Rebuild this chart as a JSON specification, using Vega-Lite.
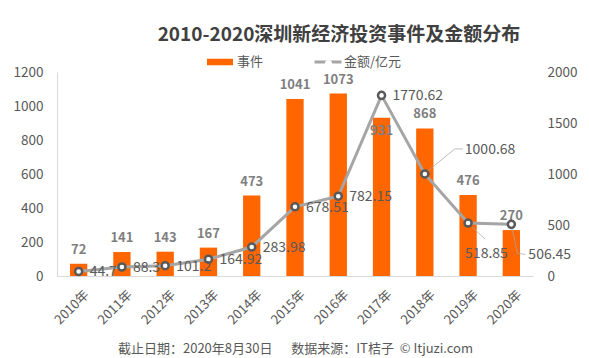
{
  "$schema": "https://vega.github.io/schema/vega-lite/v6.json",
  "width": 476,
  "height": 204,
  "autosize": "none",
  "padding": {"left": 57, "top": 72, "right": 56, "bottom": 82},
  "background": "white",
  "title": {
    "text": "2010-2020深圳新经济投资事件及金额分布",
    "anchor": "middle",
    "frame": "group",
    "dx": 44,
    "fontSize": 19,
    "fontWeight": "bold",
    "color": "#404040",
    "font": "Noto Sans CJK SC",
    "offset": 2
  },
  "data": {
    "values": [
      {"year": "2010年", "events": 72, "amount": 44.7},
      {"year": "2011年", "events": 141, "amount": 88.3},
      {"year": "2012年", "events": 143, "amount": 101.2},
      {"year": "2013年", "events": 167, "amount": 164.92},
      {"year": "2014年", "events": 473, "amount": 283.98},
      {"year": "2015年", "events": 1041, "amount": 678.51},
      {"year": "2016年", "events": 1073, "amount": 782.15},
      {"year": "2017年", "events": 931, "amount": 1770.62},
      {"year": "2018年", "events": 868, "amount": 1000.68},
      {"year": "2019年", "events": 476, "amount": 518.85},
      {"year": "2020年", "events": 270, "amount": 506.45}
    ]
  },
  "encoding": {
    "x": {
      "field": "year",
      "type": "nominal",
      "sort": null,
      "scale": {"paddingInner": 0.6, "paddingOuter": 0.3},
      "axis": {
        "title": "截止日期：2020年8月30日\u3000\u00a0\u00a0数据来源：IT桔子\u00a0\u00a0© Itjuzi.com",
        "titleY": 72,
        "titleBaseline": "middle",
        "titleFontSize": 13,
        "titleFontWeight": "normal",
        "titleColor": "#595959",
        "titleFont": "Noto Sans CJK SC",
        "labelAngle": -45,
        "labelPadding": 12,
        "labelOffset": 4,
        "labelFontSize": 13,
        "domainColor": "#D9D9D9",
        "ticks": false
      }
    }
  },
  "layer": [
    {
      "layer": [
        {
          "mark": {"type": "bar"},
          "encoding": {
            "y": {
              "field": "events",
              "type": "quantitative",
              "scale": {"domain": [0, 1200]},
              "axis": {
                "title": null,
                "values": [0, 200, 400, 600, 800, 1000, 1200],
                "format": "d",
                "labelOverlap": false,
                "domain": true,
                "domainColor": "#D9D9D9",
                "labelPadding": 14
              }
            },
            "color": {
              "datum": "事件",
              "scale": {"range": ["#FF6600"]},
              "legend": {
                "orient": "none",
                "legendX": 150,
                "legendY": -23,
                "symbolType": "M-1,-0.25H1V0.25H-1Z",
                "symbolSize": 676,
                "symbolStrokeWidth": 0,
                "labelOffset": 4
              }
            }
          }
        },
        {
          "transform": [{"filter": "datum.year != '2017年'"}],
          "mark": {"type": "text", "baseline": "alphabetic", "dy": -10, "fontSize": 13, "fontWeight": "bold", "color": "#7F7F7F", "font": "Noto Sans CJK SC"},
          "encoding": {
            "y": {
              "field": "events",
              "type": "quantitative",
              "axis": {
                "title": null,
                "values": [0, 200, 400, 600, 800, 1000, 1200],
                "format": "d",
                "labelOverlap": false,
                "domain": true,
                "domainColor": "#D9D9D9",
                "labelPadding": 14
              }
            },
            "text": {"field": "events", "type": "nominal"}
          }
        },
        {
          "transform": [{"filter": "datum.year == '2017年'"}],
          "mark": {"type": "text", "baseline": "alphabetic", "dy": 17, "fontSize": 13, "fontWeight": "bold", "color": "#7F7F7F", "font": "Noto Sans CJK SC"},
          "encoding": {
            "y": {
              "field": "events",
              "type": "quantitative",
              "axis": {
                "title": null,
                "values": [0, 200, 400, 600, 800, 1000, 1200],
                "format": "d",
                "labelOverlap": false,
                "domain": true,
                "domainColor": "#D9D9D9",
                "labelPadding": 14
              }
            },
            "text": {"field": "events", "type": "nominal"}
          }
        }
      ]
    },
    {
      "layer": [
        {
          "mark": {"type": "line", "strokeWidth": 3},
          "encoding": {
            "y": {
              "field": "amount",
              "type": "quantitative",
              "scale": {"domain": [0, 2000]},
              "axis": {
                "title": null,
                "orient": "right",
                "values": [0, 500, 1000, 1500, 2000],
                "format": "d",
                "labelOverlap": false,
                "domain": false,
                "labelPadding": 14
              }
            },
            "stroke": {
              "datum": "金额/亿元",
              "scale": {"range": ["#A5A5A5"]},
              "legend": {
                "orient": "none",
                "legendX": 256,
                "legendY": -25,
                "symbolType": "M-1,0H1",
                "symbolSize": 729,
                "symbolStrokeWidth": 3,
                "labelOffset": 1
              }
            }
          }
        },
        {
          "mark": {"type": "point", "filled": false, "fill": "white", "stroke": "#595959", "strokeWidth": 2.5, "size": 50, "opacity": 1},
          "encoding": {
            "y": {"field": "amount", "type": "quantitative"},
            "shape": {
              "datum": "金额",
              "scale": {"range": ["circle"]},
              "legend": {
                "orient": "none",
                "legendX": 265,
                "legendY": -15,
                "symbolSize": 50,
                "symbolStrokeWidth": 2.5,
                "symbolStrokeColor": "#595959",
                "symbolFillColor": "white",
                "labelExpr": "''"
              }
            }
          }
        },
        {
          "transform": [{"filter": "indexof(['2018年','2019年','2020年'], datum.year) < 0"}],
          "mark": {"type": "text", "align": "left", "baseline": "middle", "dx": 11, "dy": 1, "fontSize": 14, "color": "#595959", "font": "Noto Sans CJK SC"},
          "encoding": {
            "y": {"field": "amount", "type": "quantitative"},
            "text": {"field": "amount", "type": "nominal"}
          }
        },
        {
          "transform": [{"filter": "datum.year == '2018年'"}],
          "mark": {"type": "text", "align": "left", "baseline": "middle", "dx": 40, "dy": -24, "fontSize": 14, "color": "#595959", "font": "Noto Sans CJK SC"},
          "encoding": {
            "y": {"field": "amount", "type": "quantitative"},
            "text": {"field": "amount", "type": "nominal"}
          }
        },
        {
          "transform": [{"filter": "datum.year == '2019年'"}],
          "mark": {"type": "text", "align": "left", "baseline": "middle", "dx": -3, "dy": 31, "fontSize": 14, "color": "#595959", "font": "Noto Sans CJK SC"},
          "encoding": {
            "y": {"field": "amount", "type": "quantitative"},
            "text": {"field": "amount", "type": "nominal"}
          }
        },
        {
          "transform": [{"filter": "datum.year == '2020年'"}],
          "mark": {"type": "text", "align": "left", "baseline": "middle", "dx": 17, "dy": 31, "fontSize": 14, "color": "#595959", "font": "Noto Sans CJK SC"},
          "encoding": {
            "y": {"field": "amount", "type": "quantitative"},
            "text": {"field": "amount", "type": "nominal"}
          }
        },
        {
          "transform": [{"filter": "datum.year == '2018年'"}],
          "mark": {"type": "rule", "color": "#A6A6A6", "strokeWidth": 0.75, "xOffset": 3, "yOffset": -3, "x2Offset": 30, "y2Offset": -25},
          "encoding": {
            "y": {"field": "amount", "type": "quantitative"},
            "x2": {"field": "year"},
            "y2": {"field": "amount"}
          }
        },
        {
          "transform": [{"filter": "datum.year == '2018年'"}],
          "mark": {"type": "rule", "color": "#A6A6A6", "strokeWidth": 0.75, "xOffset": 30, "yOffset": -25, "x2Offset": 38, "y2Offset": -25},
          "encoding": {
            "y": {"field": "amount", "type": "quantitative"},
            "x2": {"field": "year"},
            "y2": {"field": "amount"}
          }
        },
        {
          "transform": [{"filter": "datum.year == '2019年'"}],
          "mark": {"type": "rule", "color": "#A6A6A6", "strokeWidth": 0.75, "xOffset": 4, "yOffset": 4, "x2Offset": 17, "y2Offset": 16},
          "encoding": {
            "y": {"field": "amount", "type": "quantitative"},
            "x2": {"field": "year"},
            "y2": {"field": "amount"}
          }
        },
        {
          "transform": [{"filter": "datum.year == '2020年'"}],
          "mark": {"type": "rule", "color": "#A6A6A6", "strokeWidth": 0.75, "xOffset": 1, "yOffset": 5, "x2Offset": 6, "y2Offset": 29},
          "encoding": {
            "y": {"field": "amount", "type": "quantitative"},
            "x2": {"field": "year"},
            "y2": {"field": "amount"}
          }
        },
        {
          "transform": [{"filter": "datum.year == '2020年'"}],
          "mark": {"type": "rule", "color": "#A6A6A6", "strokeWidth": 0.75, "xOffset": 6, "yOffset": 29, "x2Offset": 14, "y2Offset": 30},
          "encoding": {
            "y": {"field": "amount", "type": "quantitative"},
            "x2": {"field": "year"},
            "y2": {"field": "amount"}
          }
        }
      ]
    }
  ],
  "resolve": {"scale": {"y": "independent"}},
  "config": {
    "view": {"stroke": null},
    "font": "Noto Sans CJK SC",
    "axis": {
      "grid": false,
      "labelColor": "#595959",
      "labelFont": "Noto Sans CJK SC",
      "labelFontSize": 13.5,
      "labelOverlap": false,
      "ticks": false,
      "domainColor": "#D9D9D9"
    },
    "legend": {
      "padding": 0,
      "labelFontSize": 13,
      "labelColor": "#595959",
      "labelFont": "Noto Sans CJK SC",
      "title": null
    }
  }
}
